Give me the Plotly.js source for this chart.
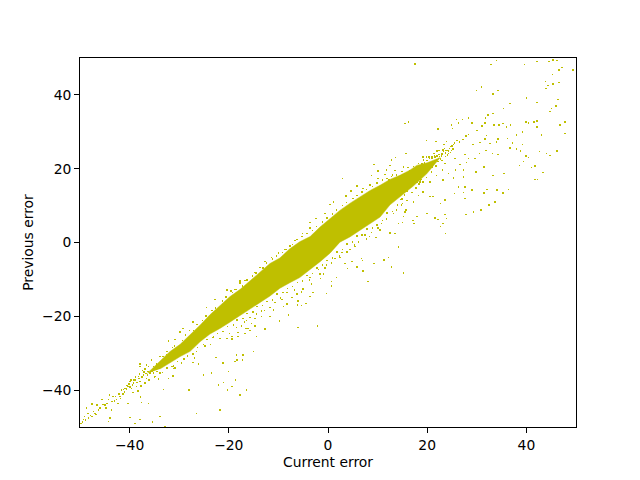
<!DOCTYPE html>
<html>
<head>
<meta charset="utf-8">
<script src="https://cdn.plot.ly/plotly-3.0.1.min.js"></script>
<style>html,body{margin:0;padding:0;background:#fff}.point{shape-rendering:crispEdges}</style>
</head>
<body>
<div id="chart" style="width:640px;height:480px"></div>
<script>
const bandUpper = [[-36.4,-35.4],[-33.9,-32.2],[-31.9,-29.6],[-29.8,-27.6],[-27.8,-25.1],[-25.8,-22.4],[-23.8,-19.6],[-21.8,-17.2],[-19.8,-14.7],[-17.7,-12.7],[-15.7,-10.4],[-13.7,-8],[-11.7,-5.7],[-9.7,-4.2],[-7.7,-1.7],[-5.7,0.2],[-3.6,1.6],[-1.6,4.2],[0.4,6.5],[2.4,8.7],[4.4,10.6],[6.4,12.4],[8.5,14.1],[10.5,15.5],[12.5,17.1],[14.5,18.2],[16.5,19.6],[17.9,20.9],[20,21.6],[22.6,23]];
const bandLower = [[19.9,18.6],[17.2,15.3],[14.5,12.4],[12.5,10.2],[10.5,6.9],[8.5,5.2],[6.4,3.3],[4.4,1.5],[2.4,0.1],[0.4,-2.9],[-1.6,-5.2],[-3.6,-7.2],[-5.7,-9.5],[-7.7,-10.9],[-9.7,-12.4],[-11.7,-14.5],[-13.7,-16.3],[-15.7,-17.9],[-17.7,-19.8],[-19.8,-21.6],[-21.8,-23.3],[-23.8,-24.8],[-25.8,-26.9],[-27.8,-29.5],[-29.8,-30.9],[-31.9,-32.6],[-33.9,-34.3]];

const farRight = [[17.5,48.4],[34,49.3],[32.9,48.2],[39.6,48.2],[42.1,49.1],[44.6,49.1],[45.4,49.5],[46.2,49.3],[47.2,47.4],[46.6,46.8],[49.4,46.8],[45.3,45.5],[43.8,43.7],[45.4,43],[46.6,43.3],[44.4,42.6],[44,41.7],[30.9,42.1],[29.9,41.2],[34.3,41.2],[33.3,40.2],[40,39.2],[36.7,37.7],[46.4,38.7],[46,37],[42.1,37.9],[45.1,36.3],[44.8,35.5],[35.4,36.3],[33.3,34.9],[32.3,34.5],[31.8,33.7],[28.3,33.8],[25.9,33.3],[27.1,33.3],[26.3,32.4],[29,32.4],[31.7,32.4],[24.9,31.8],[25.1,30.9],[22.2,30.7],[31,31.6],[33.5,31.8],[34.5,31.8],[35.3,32.2],[36.8,31.8],[36,31.3],[39.9,32.7],[40.4,32.4],[41.5,32.7],[42.1,32.9],[47.8,32.7],[46.8,31.8],[42.1,31.3],[15.5,32.2],[16.2,32.7],
[30,30.4],[28.3,29.3],[27.8,28.8],[32,29],[31.7,28.1],[34.3,28],[36.2,28.2],[38,29.2],[39.2,30],[43,29.2],[47.8,29.5],[27.2,27.9],[26.5,27.3],[25.3,26.5],[23.9,27.4],[21.8,27.4],[19.9,27.6],[23.4,26.5],[30.6,27.1],[29.2,26.5],[32.7,26.8],[37.2,26.9],[39.2,26.5],[34,27.3],[31.9,25],[33.2,24.1],[34.3,23.8],[36.7,25.6],[38,25.3],[38.8,24.8],[42.6,24.7],[44.1,24.1],[44.8,23.6],[46.2,24.8],[39.9,23.5],[40.4,23],[39.4,22],[38.6,20.9],[41.7,20.8],[41,20.3],[43.3,19],[41.7,17.1],[42.2,17.1],[30.5,24.1],[29.6,22.7],[28.3,22.7],[27.6,23.8],[24.9,25],[24.3,24.1],[23.8,25],[22.9,24.1],[22.4,25],[21.6,23.2],[20.9,23.2],[19.9,23.2],[19.2,23.2],[21.9,22.3],[21.2,22],[23.6,21.4],[25.6,22.7],[26.6,21.1],[27.9,21.7],[31.5,20.5],[33.3,18.2],[35.5,18.7],[29.8,19.1],[27.3,19.6],[25.7,19.6],[24.3,18.7],[23.1,19.6],[23.2,16.9],[25.3,17.5],[27.3,17.8],[21.9,18.2],[20.6,16.4],[19.2,16.4],[18.5,16.4],[27.6,15.1],[29,14.2],[26.3,15.1],[25.5,13.3],[27.6,11.9],[27.3,13.5],[31.5,13.4],[32.1,14.3],[34.1,14.2],[35.3,13.4],[36.4,14.4],[33.7,11],[32.5,10.1],[30.8,8.8],[29.3,8.3],[27.8,7.6],[23.6,11.5],[22.7,10.6],[21.2,12.4],[20.6,12.4],[19.2,13.7],[18.2,12.8],[17.2,11],[15.7,8.8],[20,7.9],[21.6,6.7],[22.2,6.3],[23.6,7.6],[23.9,6.5],[23.2,5.1],[22.7,4.3],[23.7,2.4],[17.9,7],[17.1,6],[17.3,5.1],[15,5.4]];

const tailFuzz = [[22,23.5],[22.5,23.3],[23,24],[23.5,25.5],[24,25],[24.5,25.5],[25,26.2],[25.5,27],[26,27.6],[21,22.7],[21.5,23.6],[20.5,22.8],[20,22.2],[19.5,21.6],[19,21.3],[22,24.8],[23.3,24.6],[24.1,23.7],[24.7,24.4],[23.7,24.2],[22.7,22.6],[21.3,21.2],[20.6,21.6],[22.2,21.9],[20.2,20.6],[21,20.4],[19.5,19.2],[18.6,20.6],[18,20.2],[17.5,19.9],[17,19.5],[21.8,20.7],[23,22.2],[18.8,18],[20.9,19.1],[16.4,19.4],[15.5,18.6],[14.8,17.9],[13.6,17.3],[12.3,17],[18.3,15.9],[17.7,14.8],[16.2,14.6],[15.4,12.9],[16.9,13.6],[13.7,12.1],[14.9,11.8],[19.9,17.6],[18.6,17],[16.3,15.3],
[20.4,23.2],[21.4,24.1],[22.4,23.9],[23.2,25.1],[24.3,24.8],[24.8,26],[25.2,25.3],[23.7,23.3],[22.9,23.4],[21.7,22.2],[20.7,20.8],[19.8,20.5],[19.1,19.6],[18.4,19.3],[22.3,22.8],[21.1,23.2],[19.3,22.3],[18.2,21.4],[17.2,20.6],[16.1,20.3],[14.9,19.2],[13.8,18.3],[12.8,17.9],[18.9,17.1],[17.9,16.2],[15.9,14],[14.6,11.6]];

const upperFuzz = [[-35.2,-33.6],[-34.6,-32.9],[-33.3,-30.9],[-32.6,-30.3],[-31.4,-28.4],[-30.9,-28.1],[-29.3,-26.5],[-28.7,-25.1],[-27.9,-23.9],[-27.1,-23.8],[-26.4,-22.2],[-25.3,-21.2],[-24.6,-19.9],[-23.4,-18.4],[-22.7,-17.8],[-21.3,-15.9],[-20.6,-14.8],[-19.3,-13.6],[-18.4,-12.8],[-17.2,-11.8],[-16.3,-10.2],[-15.2,-9.1],[-14.5,-8.2],[-13.1,-6.9],[-12.4,-5.6],[-11.2,-4.5],[-10.4,-3.6],[-9.2,-2.7],[-8.4,-1.9],[-7.2,-0.5],[-6.3,0.8],[-5.2,1.6],[-4.2,2.5],[-3.1,3.2],[-2.3,4.3],[-1.1,5.6],[-0.2,6.6],[0.9,7.7],[1.7,8.8],[2.9,10],[3.7,10.9],[5,11.9],[5.8,12.8],[6.9,13.7],[7.8,14.4],[9,15.2],[9.9,16.1],[11,16.9],[11.9,17.4],[13,18.3]];
const lowerFuzz = [[-35,-36.4],[-33.4,-35.2],[-32.5,-34],[-31.2,-33.5],[-30.3,-32.2],[-29,-31.6],[-28.3,-30.7],[-27.2,-30.2],[-26.3,-28.5],[-25.1,-27.7],[-24.4,-26.3],[-23.2,-25.8],[-22.3,-24.6],[-21.2,-24.1],[-20.3,-22.8],[-19.1,-22.3],[-18.3,-21],[-17.1,-20.6],[-16.3,-19.2],[-15.1,-18.8],[-14.3,-17.4],[-13.2,-17.1],[-12.3,-16],[-11.2,-15.6],[-10.3,-14],[-9.1,-13.5],[-8.2,-12.5],[-7.2,-11.9],[-6.2,-10.8],[-5.1,-10.4],[-4.2,-8.9],[-3.1,-8.4],[-2.2,-6.9],[-1.1,-6.1],[-0.2,-4.9],[0.9,-4.2],[1.8,-2.6],[2.9,-1.9],[3.8,-0.4],[4.9,0.2],[5.8,1.7],[6.9,2.1],[7.9,3.6],[9,3.9],[9.9,4.8],[11,5.9],[11.9,8],[13,8.4],[14,10.1],[15,10.6],[-34.2,-37],[-30.8,-34],[-26.9,-31.3],[-23.7,-27.6],[-19.9,-24.6],[-16.8,-21.6],[-12.8,-18.4],[-9.6,-15.1],[-6.8,-12.9],[-3.7,-10.2],[-0.7,-6.9],[2.3,-3.6],[5.3,-0.7],[8.4,1.6],[10.4,3.3]];

const middle = [[2.95,17.3],[0.4,10.3],[1.1,11],[-3.6,5.4],[-2.4,6.5],[-0.6,7.9],[5.8,15.3],[4.6,14],[3.6,12.6],[9.3,21.1],[8.8,18.1],[10.1,19.4],[11.8,19.6],[12.8,22.3],[13.6,23],[15.7,24.1],[12.5,20.9],[15.2,20.5],[13.5,19.5],[11.5,18.4],[10.1,17.3],[8.5,15.6],[7.1,14.6],[-3.6,3.9],[-5.1,2.4],[-6.7,0.6],[-7.7,-0.9],[-10,-2.9],[-8.7,-1.9],[-12.7,-5.1],[-11.4,-4],[-13.7,-6.8],[-14.7,-8.1],[-16.7,-10.3],[-17.7,-11],[-18.8,-12.7],[-19.6,-13.1],
[14.2,-1.2],[12.2,-4],[11.3,-4.8],[12.8,-6.6],[15.2,-8.2],[9.3,-5.7],[8.1,-10.6],[7.1,-7.7],[6.8,-4.3],[7,-4.9],[4.8,-5.2],[3.4,-5.7],[3.9,-7],[5.8,-6.6],[1.7,-9.5],[0.7,-10.6],[0.7,-11.8],[-0.3,-13.8],[-0.9,-8.6],[-0.6,-6.9],[-1.5,-9.7],[-3.6,-9.5],[-3,-13.6],[-3.6,-14.7],[-4.4,-16.5],[-5.3,-17.1],[-6.2,-16.9],[-2.1,-22.6],[-6,-23.1],[-8,-19.6],[-9,-17.4],[-11,-18.3],[-12.7,-23.5],[-9.8,-21.3],[-11.7,-20.1],[-13.4,-20.1],[-14.7,-20.6],[-15.4,-21.9],[-16.5,-23.3],[-18.1,-24.4],[-19.4,-25.5],[-18.4,-23],
[15.2,7],[14.2,5.2],[13.5,2.5],[12.5,2.6],[10.5,3.4],[8.8,2.7],[9.7,1.4],[7.8,0.9],[7.5,2.1],[6.1,0.2],[5.4,-1.1],[3.8,-2.6],[2.8,-2.7],[4.4,-1.9],[2.4,-4],[1.4,-4.3],[0.7,-5.5],[-0.3,-6.1],[-1.9,-7.3],[-1.6,-8.6],[-3.3,-11.3],[-5,-12.6],[-5.3,-13.4],[-6.3,-14],[-7.3,-14.9],[-8.3,-13.5],[-9.3,-15.4],[-8.3,-16.7],[-6,-15.8],[-11.7,-17.6],[-10.7,-16.3],[-13.4,-18.5],[-14.4,-19.4],[-15.7,-20.3],[-16.4,-21.2],[-17.4,-22.6],[13.8,8.8],[15.5,8.3],[14.8,10.1],[15.9,11.4],[13.2,7.9],[11.8,6.4],[10.8,5.1],[10.1,3.9]];

const lowerLeft = [[-49.8,-49],[-49.3,-48],[-48.3,-47.6],[-47.6,-47.2],[-47,-46.3],[-48.7,-44.9],[-47.6,-43.7],[-46.3,-45.4],[-46.6,-44],[-45.6,-42.6],[-45,-44],[-44.3,-42.5],[-43.6,-45.4],[-43.3,-41.7],[-42.6,-42.6],[-42.3,-43.6],[-41.3,-41],[-41.6,-40],[-40.9,-39.5],[-40.3,-39],[-39.9,-37.7],[-39.2,-38.1],[-38.9,-37.2],[-38.6,-39],[-39.6,-39.5],[-38.2,-36.3],[-37.9,-37.7],[-37.2,-35.9],[-36.6,-36.8],[-37.9,-33.6],[-36.2,-33.6],[-35.6,-31.8],[-35.9,-35.4],[-34.5,-35],[-40.3,-43.6],[-37.6,-43.4],[-36.2,-43.6],[-37.8,-41.9],[-39.9,-47.4],[-37.9,-48],[-38.9,-49.1],[-44,-47.6],[-44.3,-48.5],[-33.9,-47.2],[-35.4,-48.7],[-32.9,-49.9],[-26.5,-46.3],[-21.8,-45.4],[-16.4,-40],[-17.7,-41.3],[-18.6,-37.2],[-19.4,-39],[-20.1,-35],[-20.3,-40],[-22.1,-38.6],[-21.1,-38],[-23.5,-35.3],[-25.1,-35.9],[-28,-40],[-33.2,-39.8],[-32.2,-36.8],[-31.3,-36.2],[-31.2,-34.1],[-29.5,-32.7],[-27.2,-32.5],[-26.1,-32.9],[-22.6,-31.1],[-21.2,-32.7],[-17.1,-30.5],[-18.4,-30.5],[-18.3,-31.8],[-17.2,-31.8],[-18.8,-32.3],[-15,-29.6],[-20.4,-26],[-19.4,-26.1],[-18.1,-25.5],[-21.8,-26],[-16.7,-24.6],[-15.7,-23.9],[-14.7,-22.6],[-14.4,-25.5],[-16.1,-23.3],[-26.5,-29.6],[-24.8,-28],[-23.1,-25.5],[-29.8,-24.2],[-29.2,-23.3],[-27.2,-21.5],[-24.5,-17.6],[-22.8,-15.4],[-20.4,-12.9],[-17.7,-10.4],[-32.2,-26.7],[-37.9,-32.9],[-36.6,-33.2],[-33.9,-30.9],[-32.5,-29.5],[-30.8,-26.3],[-31.5,-33.6],[-33.9,-35.4],[-31.9,-31.8],[-30.2,-30.5],[-34.9,-36.3],[-36.9,-38.1],[-41.9,-41.7],
[-37.1,-35.1],[-36.7,-35.5],[-38.4,-37.9],[-39.4,-38.6],[-40.6,-39.7],[-40.1,-38.3],[-38.1,-36.9],[-37.5,-36.4],[-36.3,-34.9],[-35.5,-34.9],[-41,-40.5],[-42.1,-41.1],[-43,-43],[-44.6,-43.6],[-46,-44.9],[-47.3,-45.8],[-48.9,-48.1],[-49.1,-47.1],[-38.8,-36.4],[-39.7,-37.2],
[-37.4,-34.7],[-36.9,-34.3],[-36.4,-35.9],[-35.2,-35.4],[-38,-35.6],[-38.6,-38],[-39.1,-37.3],[-39.9,-39.1],[-40.5,-38.7],[-41.2,-39.8],[-41.8,-42.3],[-42.8,-41.8],[-43.5,-43.1],[-44.1,-41.3],[-44.8,-44.8],[-45.4,-43.9],[-46.8,-46.6],[-47.9,-46.9],[-48.4,-46.4],[-49.5,-48.6],[-36.1,-37.2],[-37.7,-38.9],[-38.3,-40.2],[-39.3,-40.6]];

const xTicks = [-40,-20,0,20,40];
const yTicks = [-40,-20,0,20,40];
const pointColor = '#bfbf00';
const outliers = farRight.concat(tailFuzz, upperFuzz, lowerFuzz, middle, lowerLeft);
const band = bandUpper.concat(bandLower);
const axisBase = {range:[-50,50],showgrid:false,zeroline:false,showline:true,mirror:true,linecolor:'#000',linewidth:1,ticks:'outside',ticklen:4.9,tickwidth:1,tickcolor:'#000',tickmode:'array',tickfont:{family:'DejaVu Sans',size:13.89,color:'#000'}};
Plotly.newPlot('chart',[
 {type:'scatter',mode:'lines',x:band.map(p=>p[0]),y:band.map(p=>p[1]),fill:'toself',fillcolor:pointColor,line:{color:pointColor,width:0.5},hoverinfo:'skip',showlegend:false},
 {type:'scatter',mode:'markers',x:outliers.map(p=>p[0]),y:outliers.map(p=>p[1]),marker:{symbol:'square',size:1.5,color:pointColor,line:{width:0}},hoverinfo:'skip',showlegend:false}
],{
 width:640,height:480,showlegend:false,paper_bgcolor:'#fff',plot_bgcolor:'#fff',
 margin:{l:80,r:64,t:58,b:53,pad:0},
 xaxis:Object.assign({},axisBase,{tickvals:xTicks,title:{text:'Current error',font:{family:'DejaVu Sans',size:13.89,color:'#000'},standoff:5}}),
 yaxis:Object.assign({},axisBase,{tickvals:yTicks,title:{text:'Previous error',font:{family:'DejaVu Sans',size:13.89,color:'#000'},standoff:5}})
},{displayModeBar:false,staticPlot:true});
</script>
</body>
</html>
